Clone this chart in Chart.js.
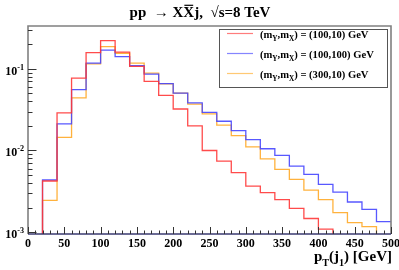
<!DOCTYPE html>
<html>
<head>
<meta charset="utf-8">
<script src="https://cdn.jsdelivr.net/npm/chart.js@4.4.0/dist/chart.umd.min.js"></script>
<style>
  html, body { margin: 0; padding: 0; background: #fff; }
  canvas { display: block; }
</style>
</head>
<body>
<canvas id="ptChart" width="399" height="270"></canvas>
<script>
// left edges of the 20 GeV bins, 0..480
const binEdges = [0, 20, 40, 60, 80, 100, 120, 140, 160, 180, 200, 220, 240,
                  260, 280, 300, 320, 340, 360, 380, 400, 420, 440, 460, 480];
const xEnd = 500;

// normalised distributions (0 = empty bin)
const mY100mX10 = [0, 0.00423, 0.0288, 0.0769, 0.158, 0.221, 0.160, 0.107, 0.070, 0.0473,
                   0.0322, 0.0200, 0.0100, 0.0074, 0.00535, 0.00367, 0.00305, 0.0025, 0.00196,
                   0.00147, 0.00109, 0, 0, 0, 0];
const mY100mX100 = [0, 0.00435, 0.0212, 0.0555, 0.117, 0.169, 0.141, 0.109, 0.086, 0.066,
                    0.0505, 0.0382, 0.0293, 0.0228, 0.0175, 0.0136, 0.0105, 0.0087, 0.00644,
                    0.0051, 0.00385, 0.0031, 0.00234, 0.0019, 0.00135];
const mY300mX10 = [0, 0.00245, 0.0145, 0.044, 0.115, 0.187, 0.155, 0.117, 0.0886, 0.0656,
                   0.0505, 0.037, 0.028, 0.0204, 0.0152, 0.0111, 0.0079, 0.00586, 0.00443,
                   0.00328, 0.0025, 0.00174, 0.00131, 0.00117, 0];

const seriesLabels = ['100,10', '100,100', '300,10'];
const seriesColors = ['rgba(255,55,55,0.9)', 'rgba(70,70,255,0.9)', 'rgba(255,170,40,0.9)'];
const legendColors = ['rgba(255,110,110,0.9)', 'rgba(120,120,255,0.9)', 'rgba(255,195,100,0.9)'];

// axis ticks
const xTickValues = [0, 50, 100, 150, 200, 250, 300, 350, 400, 450, 500];
const xTickLabels = ['0', '50', '100', '150', '200', '250', '300', '350', '400', '450', '500'];
const yDecades = [0.001, 0.01, 0.1];
const yDecadeExp = ['-3', '-2', '-1'];

const FLOOR = 1e-6; // empty bins fall below the axis and get clipped

function toSteps(values) {
    const pts = binEdges.map((e, i) => ({ x: e, y: values[i] > 0 ? values[i] : FLOOR }));
    const last = values[values.length - 1];
    pts.push({ x: xEnd, y: last > 0 ? last : FLOOR });
    return pts;
}

const SERIF = '"Liberation Serif", "DejaVu Serif", serif';

function fontOf(size) {
    return 'bold ' + size + 'px ' + SERIF;
}

// segments: [text, mode, overline] with mode '', 'sub', 'sup'
function drawRich(ctx, segs, x, y, size, align) {
    ctx.save();
    ctx.textAlign = 'left';
    let w = 0;
    segs.forEach(([t, m]) => {
        ctx.font = fontOf(m ? size * 0.68 : size);
        w += ctx.measureText(t).width;
    });
    let cx = align === 'right' ? x - w : align === 'center' ? x - w / 2 : x;
    segs.forEach(([t, m, bar]) => {
        const s = m ? size * 0.68 : size;
        ctx.font = fontOf(s);
        const dy = m === 'sub' ? size * 0.35 : m === 'sup' ? -size * 0.42 : 0;
        ctx.fillText(t, cx, y + dy);
        const tw = ctx.measureText(t).width;
        if (bar) {
            ctx.lineWidth = 1.2;
            ctx.strokeStyle = '#000';
            ctx.beginPath();
            ctx.moveTo(cx + 1, y - size * 0.78);
            ctx.lineTo(cx + tw - 1, y - size * 0.78);
            ctx.stroke();
        }
        cx += tw;
    });
    ctx.restore();
}

const rootStyle = {
    id: 'rootStyle',
    afterDraw(chart) {
        const ctx = chart.ctx;
        const a = chart.chartArea;
        const xs = chart.scales.x, ys = chart.scales.y;
        ctx.save();
        ctx.fillStyle = '#000';
        ctx.textBaseline = 'alphabetic';

        // frame
        ctx.lineWidth = 1.6;
        ctx.strokeStyle = '#808080';
        ctx.beginPath();
        ctx.moveTo(a.left, a.bottom);
        ctx.lineTo(a.left, a.top);
        ctx.lineTo(a.right, a.top);
        ctx.lineTo(a.right, a.bottom);
        ctx.stroke();
        ctx.strokeStyle = '#3a3a70';
        ctx.beginPath();
        ctx.moveTo(a.left, a.bottom);
        ctx.lineTo(a.right, a.bottom);
        ctx.stroke();

        // x ticks (inside the frame)
        ctx.strokeStyle = '#333';
        ctx.lineWidth = 1;
        for (let v = 0; v <= xEnd; v += 10) {
            const px = Math.round(xs.getPixelForValue(v)) + 0.5;
            const len = v % 50 === 0 ? 7 : 3.5;
            ctx.beginPath();
            ctx.moveTo(px, a.bottom);
            ctx.lineTo(px, a.bottom - len);
            ctx.stroke();
        }
        ctx.textAlign = 'center';
        ctx.font = fontOf(12);
        xTickValues.forEach((v, i) => {
            ctx.fillText(xTickLabels[i], xs.getPixelForValue(v), 247);
        });

        // y ticks (log)
        yDecades.forEach((d, i) => {
            for (let k = 1; k <= 9; k++) {
                const v = d * k;
                if (v < ys.min || v > ys.max) continue;
                const py = Math.round(ys.getPixelForValue(v)) + 0.5;
                ctx.beginPath();
                ctx.moveTo(a.left, py);
                ctx.lineTo(a.left + (k === 1 ? 8.5 : 4.5), py);
                ctx.stroke();
            }
            const py = ys.getPixelForValue(d);
            drawRich(ctx, [['10', ''], [yDecadeExp[i], 'sup']], 24, py + 6, 12, 'right');
        });

        // x axis title
        drawRich(ctx, [['p', ''], ['T', 'sub'], ['(j', ''], ['1', 'sub'], [') [GeV]', '']],
                 392, 260.5, 15, 'right');

        // title
        drawRich(ctx, [['pp  \u2192 X', ''], ['X', '', true], ['j,  \u221As=8 TeV', '']],
                 200, 17, 15, 'center');

        // legend box
        const lx = 219, ly = 29, lw = 168, lh = 58;
        ctx.fillStyle = '#fff';
        ctx.fillRect(lx, ly, lw, lh);
        ctx.strokeStyle = '#555';
        ctx.lineWidth = 1;
        ctx.strokeRect(lx + 0.5, ly + 0.5, lw, lh);
        chart.data.datasets.forEach((ds, i) => {
            const yy = 33.5 + i * 20;
            ctx.strokeStyle = legendColors[i];
            ctx.lineWidth = 1.2;
            ctx.beginPath();
            ctx.moveTo(227, yy);
            ctx.lineTo(253, yy);
            ctx.stroke();
            ctx.fillStyle = '#000';
            drawRich(ctx, [['(m', ''], ['Y', 'sub'], [',m', ''], ['X', 'sub'],
                           [') = (' + seriesLabels[i] + ') GeV', '']], 260, yy + 4, 10.6, 'left');
        });
        ctx.restore();
    }
};

const seriesValues = [mY100mX10, mY100mX100, mY300mX10];

new Chart(document.getElementById('ptChart').getContext('2d'), {
    type: 'line',
    data: {
        datasets: seriesValues.map((vals, i) => ({
            label: seriesLabels[i],
            data: toSteps(vals),
            borderColor: seriesColors[i],
            borderWidth: 1.3,
            pointRadius: 0,
            fill: false,
            stepped: true,
            tension: 0
        }))
    },
    options: {
        responsive: false,
        devicePixelRatio: 1,
        animation: false,
        events: [],
        layout: { padding: { left: 28, top: 26, right: 8, bottom: 36 } },
        plugins: {
            legend: { display: false },
            title: { display: false },
            tooltip: { enabled: false }
        },
        scales: {
            x: { type: 'linear', min: 0, max: xEnd, display: false },
            y: { type: 'logarithmic', min: 0.00095, max: 0.334, display: false }
        }
    },
    plugins: [rootStyle]
});
</script>
</body>
</html>
